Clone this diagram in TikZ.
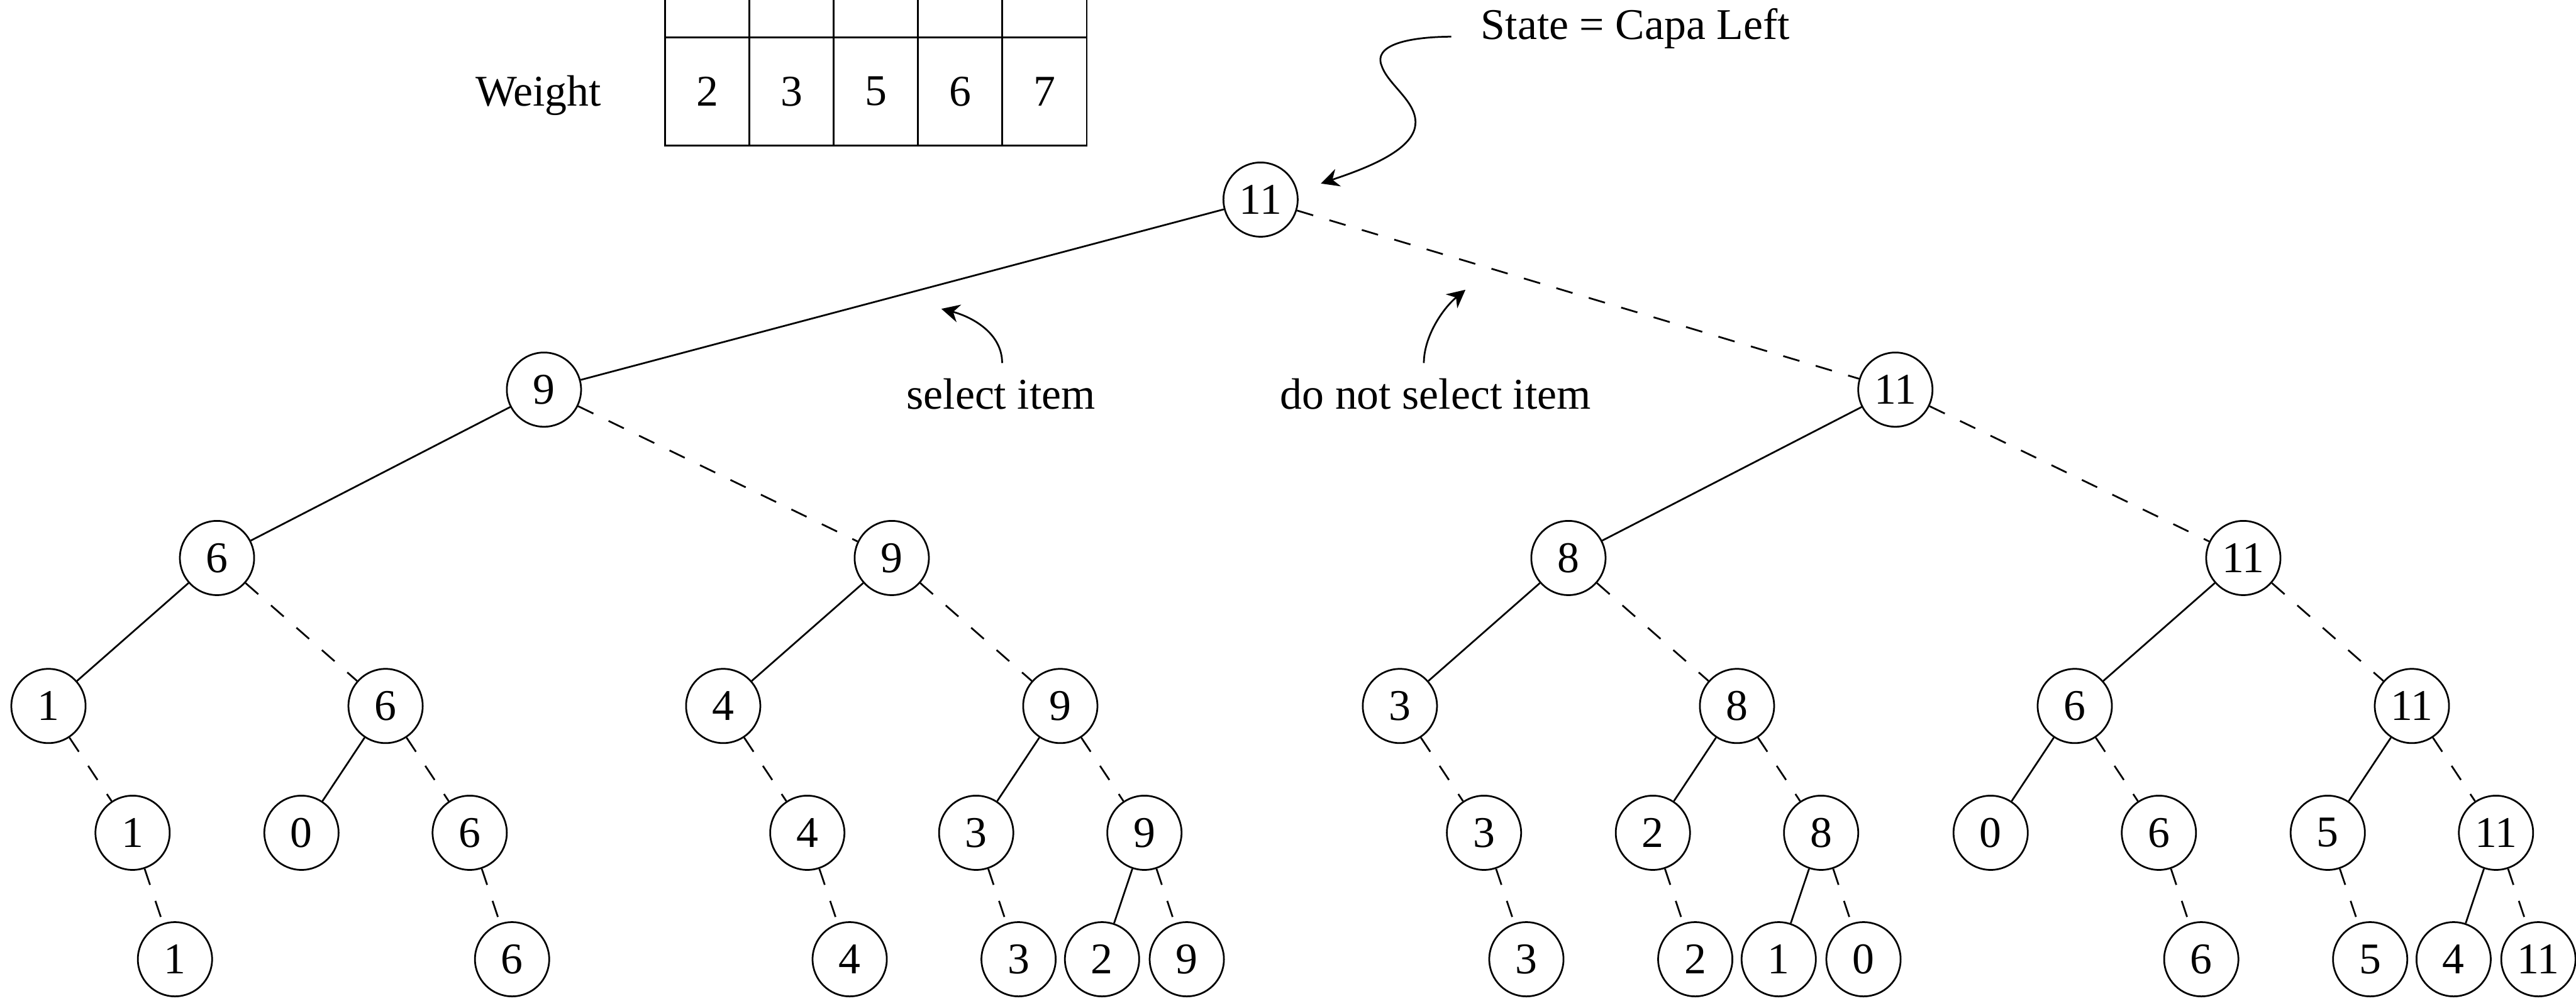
\documentclass[tikz,border=0pt]{standalone}
\usepackage{fontspec}
\setmainfont{Liberation Serif}
\usetikzlibrary{arrows.meta}
\begin{document}
\begin{tikzpicture}[x=0.1mm,y=-0.1mm,
  every node/.style={font=\fontsize{7.6pt}{9pt}\selectfont},
  st/.style={circle,draw,line width=0.3pt,minimum size=4.52mm,inner sep=0pt},
  cell/.style={rectangle,draw,line width=0.3pt,minimum width=5.13mm,minimum height=6.58mm,inner sep=0pt},
  lbl/.style={inner sep=0pt,anchor=base},
  sel/.style={line width=0.3pt},
  nsel/.style={line width=0.3pt,dash pattern=on 1.03mm off 1.03mm},
  note/.style={line width=0.3pt,-{Stealth[length=1.1mm,width=1.1mm]}}
]
\useasboundingbox (0,0) rectangle (1568,609.4);
\clip (0,0) rectangle (1568,609.4);

% table
\foreach \i/\x/\w in {1/430.5/2,2/481.8/3,3/533.2/5,4/584.5/6,5/635.8/7}{
  \node[cell] (v\i) at (\x,-10.2) {};
  \node[cell] (w\i) at (\x,55.6) {\w};
}
\node[lbl] (wt) at (327.7,64.4) {Weight};

% labels
\node[lbl,anchor=base west] (state) at (900.8,23.8) {State = Capa Left};
\node[lbl] (seltxt) at (609.3,249) {select item};
\node[lbl] (nseltxt) at (873.9,249) {do not select item};

% tree nodes
\node[st] (r) at (767.3,121.5) {11};
\node[st] (a) at (331.1,237.2) {9};
\node[st] (b) at (1153.7,237.2) {11};
\node[st] (aa) at (132.1,339.7) {6};
\node[st] (ab) at (542.8,339.7) {9};
\node[st] (ba) at (954.7,339.7) {8};
\node[st] (bb) at (1365.5,339.7) {11};
\node[st] (aaa) at (29.5,429.8) {1};
\node[st] (aab) at (234.7,429.8) {6};
\node[st] (aba) at (440.2,429.8) {4};
\node[st] (abb) at (645.4,429.8) {9};
\node[st] (baa) at (852.1,429.8) {3};
\node[st] (bab) at (1057.3,429.8) {8};
\node[st] (bba) at (1262.9,429.8) {6};
\node[st] (bbb) at (1468.1,429.8) {11};
\node[st] (aaab) at (80.7,507) {1};
\node[st] (aaba) at (183.5,507) {0};
\node[st] (aabb) at (285.9,507) {6};
\node[st] (abab) at (491.4,507) {4};
\node[st] (abba) at (594.2,507) {3};
\node[st] (abbb) at (696.6,507) {9};
\node[st] (baab) at (903.3,507) {3};
\node[st] (baba) at (1006.1,507) {2};
\node[st] (babb) at (1108.5,507) {8};
\node[st] (bbaa) at (1211.7,507) {0};
\node[st] (bbab) at (1314.1,507) {6};
\node[st] (bbba) at (1416.9,507) {5};
\node[st] (bbbb) at (1519.3,507) {11};
\node[st] (aaabb) at (106.5,584) {1};
\node[st] (aabbb) at (311.7,584) {6};
\node[st] (ababb) at (517.2,584) {4};
\node[st] (abbab) at (620,584) {3};
\node[st] (abbba) at (670.8,584) {2};
\node[st] (abbbb) at (722.4,584) {9};
\node[st] (baabb) at (929.1,584) {3};
\node[st] (babab) at (1031.9,584) {2};
\node[st] (babba) at (1082.7,584) {1};
\node[st] (babbb) at (1134.3,584) {0};
\node[st] (bbabb) at (1339.9,584) {6};
\node[st] (bbbab) at (1442.7,584) {5};
\node[st] (bbbba) at (1493.5,584) {4};
\node[st] (bbbbb) at (1545.1,584) {11};

% selected (solid)
\foreach \p/\c in {r/a,a/aa,b/ba,aa/aaa,ab/aba,ba/baa,bb/bba,aab/aaba,abb/abba,bab/baba,bba/bbaa,bbb/bbba,abbb/abbba,babb/babba,bbbb/bbbba}
  \draw[sel] (\p) -- (\c);
% not selected (dashed)
\foreach \p/\c in {r/b,a/ab,b/bb,aa/aab,ab/abb,ba/bab,bb/bbb,aaa/aaab,aab/aabb,aba/abab,abb/abbb,baa/baab,bab/babb,bba/bbab,bbb/bbbb,aaab/aaabb,aabb/aabbb,abab/ababb,abba/abbab,abbb/abbbb,baab/baabb,baba/babab,babb/babbb,bbab/bbabb,bbba/bbbab,bbbb/bbbbb}
  \draw[nsel] (\p) -- (\c);

% annotation arrows
\coordinate (s0) at (883.4,22.3);
\coordinate (s1) at (804,111.7);
\draw[note] (s0) .. controls (855,22.5) and (836,28) .. (841,40)
  .. controls (845,52) and (863,62) .. (861.5,76)
  .. controls (860,92) and (830,103) .. (s1);
\coordinate (a0) at (610,221);
\coordinate (a1) at (573,188);
\draw[note] (a0) .. controls (610,203) and (592,193) .. (a1);
\coordinate (b0) at (866.7,221);
\coordinate (b1) at (892,176.4);
\draw[note] (b0) .. controls (866.7,205) and (878,188) .. (b1);
\end{tikzpicture}
\end{document}
